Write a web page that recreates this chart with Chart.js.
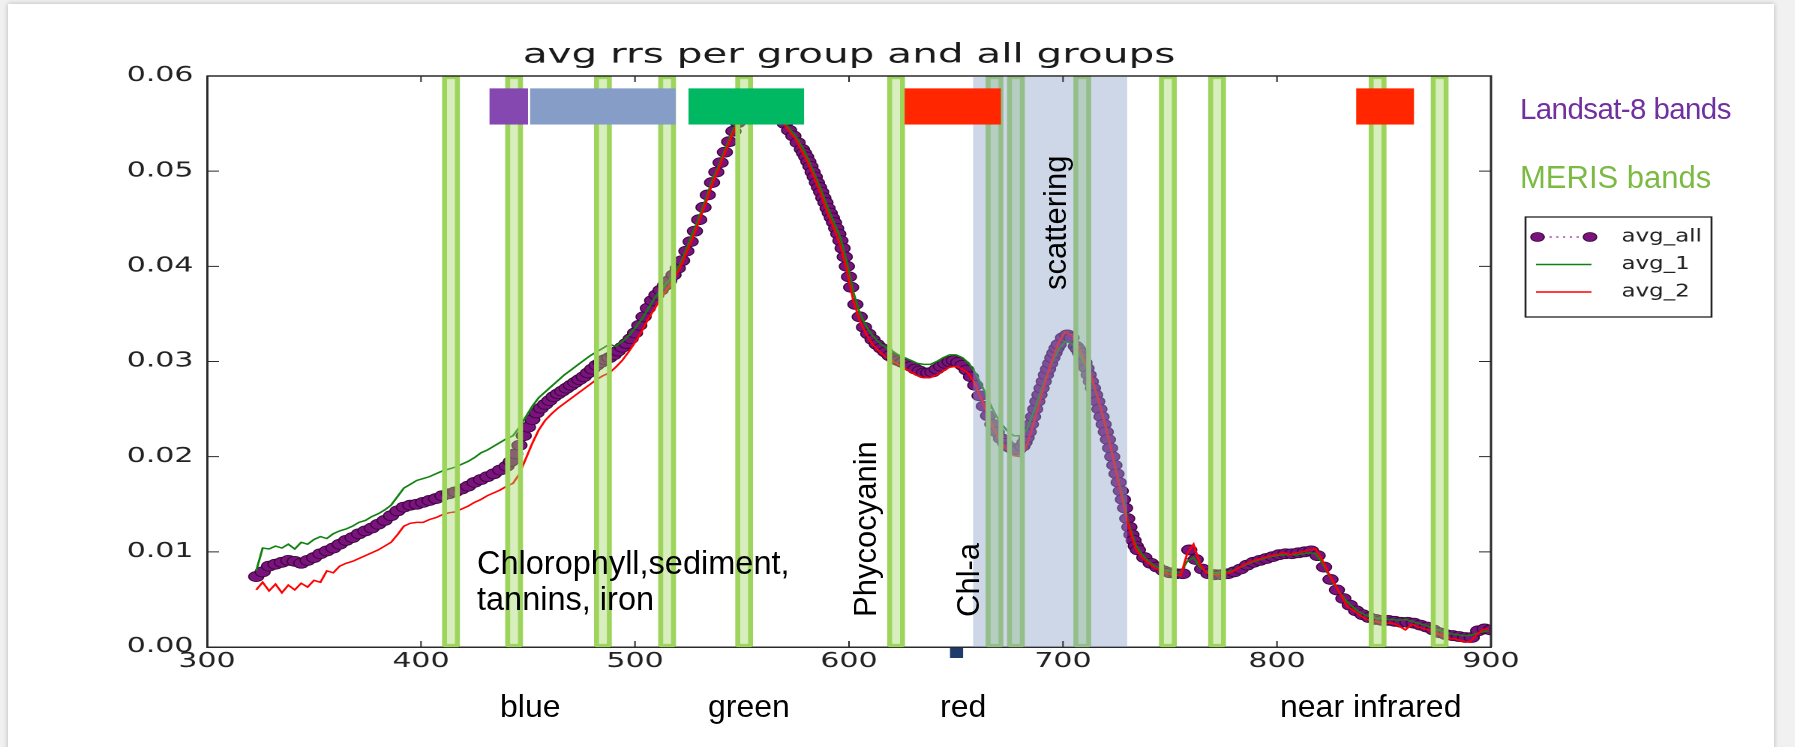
<!DOCTYPE html>
<html>
<head>
<meta charset="utf-8">
<script src="https://cdn.jsdelivr.net/npm/chart.js@4.4.1/dist/chart.umd.min.js"></script>
<style>
  html, body { margin: 0; padding: 0; }
  body { width: 1795px; height: 747px; background: #f1f1f1; position: relative; overflow: hidden; }
  #slide { position: absolute; left: 8px; top: 4px; width: 1766px; height: 760px; background: #fff; box-shadow: 0 0 5px rgba(0,0,0,0.25); }
  /* the matplotlib picture was stretched sideways on the slide */
  #wrap { position: absolute; left: 0; top: 0; width: 1197px; height: 747px; transform: scaleX(1.5); transform-origin: 0 0; }
  .note { position: absolute; font-family: "Liberation Sans", Arial, sans-serif; font-size: 32px; line-height: 36px; color: #000; white-space: nowrap; }
  .vert { transform-origin: 0 0; transform: rotate(-90deg); }
</style>
</head>
<body>
<div id="slide"></div>
<div id="wrap"><canvas id="chart" width="1197" height="747"></canvas></div>

<div class="note" style="left:477px; top:545px; font-size:32.5px;">Chlorophyll,sediment,<br>tannins, iron</div>
<div class="note" style="left:500px; top:688px;">blue</div>
<div class="note" style="left:708px; top:688px;">green</div>
<div class="note" style="left:940px; top:688px;">red</div>
<div class="note" style="left:1280px; top:688px;">near infrared</div>
<div class="note vert" style="left:848px; top:617px; font-size:31px;">Phycocyanin</div>
<div class="note vert" style="left:951px; top:617px; font-size:31px;">Chl-a</div>
<div class="note vert" style="left:1038px; top:290px; font-size:31px;">scattering</div>
<div class="note" style="left:1520px; top:91px; font-size:29.5px; letter-spacing:-0.6px; color:#7030a0;">Landsat-8 bands</div>
<div class="note" style="left:1520px; top:160px; font-size:31px; color:#7cba44;">MERIS bands</div>

<script>
// Werte (Wellenlaenge in nm, rrs)
const wavelengthAll = [
  323,326,329,332,335,338,341,344,347,350,353,356,359,362,365,368,371,374,377,380,
  383,386,389,392,395,398,401,404,407,410,413,416,419,422,425,428,431,434,437,440,
  442,444,446,448,450,452,454,456,458,460,462,464,466,468,470,472,474,476,478,480,
  482,484,486,488,490,492,494,496,498,500,502,504,506,508,510,512,514,516,518,520,
  522,524,526,528,530,532,534,536,538,540,542,544,546,548,550,552,554,556,558,560,
  562,564,566,568,570,572,574,576,
  578,579,580,581,582,583,584,585,586,587,588,589,590,591,592,593,594,595,596,597,598,599,600,601,
  603,605,607,609,611,613,615,617,619,621,623,625,627,629,631,633,635,637,639,641,
  643,645,647,649,651,653,655,657,659,661,663,665,667,669,671,673,675,677,679,681,
  682,683,684,685,686,687,688,689,690,691,692,693,694,695,696,697,698,
  700,702,704,706,
  707,708,709,710,711,712,713,714,715,716,717,718,719,720,721,722,723,724,725,726,727,728,729,730,731,732,733,734,735,
  738,741,744,747,750,753,756,759,762,765,768,771,774,777,780,783,786,789,792,795,
  798,801,804,807,810,813,816,819,822,825,828,831,834,837,840,843,846,849,852,855,
  858,861,864,867,870,873,876,879,882,885,888,891,894,897,900
];
const avgAll = [
  .0074,.0079,.0085,.0087,.0089,.0091,.0090,.0088,.0091,.0094,.0098,.0101,.0104,.0108,.0112,.0115,.0119,.0122,.0125,.0129,
  .0133,.0138,.0143,.0147,.0149,.0150,.0152,.0154,.0156,.0159,.0161,.0163,.0166,.0169,.0173,.0176,.0179,.0182,.0186,.0190,
  .0195,.0203,.0212,.0222,.0231,.0239,.0246,.0251,.0255,.0259,.0263,.0266,.0269,.0272,.0275,.0278,.0281,.0284,.0288,.0292,
  .0296,.0299,.0302,.0304,.0307,.0311,.0315,.0319,.0324,.0330,.0338,.0347,.0356,.0364,.0370,.0375,.0380,.0385,.0391,.0398,
  .0406,.0416,.0426,.0437,.0449,.0462,.0475,.0488,.0499,.0509,.0520,.0531,.0542,.0551,.0559,.0566,.0572,.0576,.0579,.0580,
  .0579,.0575,.0568,.0558,.0550,.0543,.0537,.0530,
  .0523,.0519,.0515,.0510,.0505,.0499,.0494,.0488,.0483,.0478,.0472,.0467,.0461,.0456,.0451,.0446,.0440,.0434,.0427,.0419,.0410,.0400,.0389,.0378,
  .0360,.0347,.0336,.0329,.0323,.0318,.0314,.0310,.0306,.0303,.0301,.0299,.0297,.0295,.0292,.0290,.0288,.0288,.0289,.0292,
  .0295,.0298,.0300,.0301,.0299,.0296,.0291,.0284,.0275,.0264,.0253,.0243,.0234,.0226,.0219,.0214,.0210,.0207,.0207,.0211,
  .0215,.0220,.0226,.0234,.0242,.0250,.0258,.0265,.0272,.0279,.0286,.0292,.0298,.0304,.0309,.0314,.0318,
  .0325,.0328,.0325,.0316,
  .0313,.0309,.0305,.0299,.0293,.0286,.0279,.0272,.0265,.0258,.0250,.0242,.0234,.0226,.0218,.0209,.0200,.0191,.0182,.0173,.0164,.0155,.0146,.0135,.0126,.0118,.0112,.0106,.0102,
  .0094,.0088,.0084,.0080,.0078,.0077,.0077,.0102,.0092,.0082,.0077,.0076,.0076,.0077,.0079,.0082,.0086,.0089,.0091,.0093,
  .0095,.0097,.0098,.0098,.0099,.0100,.0101,.0096,.0084,.0071,.0060,.0051,.0044,.0038,.0034,.0031,.0029,.0028,.0028,.0027,
  .0026,.0026,.0025,.0023,.0021,.0018,.0015,.0013,.0012,.0011,.0010,.0010,.0017,.0019,.0018
];

const wavelengthLines = [
  323,326,329,332,335,338,341,344,347,350, 353,356,359,362,365,368,371,374,377,380,
  383,386,389,392,395,398,401,404,407,410, 413,416,419,422,425,428,431,434,437,440,
  443,446,449,452,455,458,461,464,467,470, 473,476,479,482,485,488,491,494,497,500,
  503,506,509,512,515,518,521,524,527,530, 533,536,539,542,545,548,551,554,557,560,
  563,566,569,572,575,578,581,584,587,590, 593,596,599,602,605,608,611,614,617,620,
  623,626,629,632,635,638,641,644,647,650, 653,656,659,662,665,668,671,674,677,680,
  683,686,689,692,695,698,701,704,707,710, 713,716,719,722,725,728,731,734,737,740,
  743,746,749,752,755,758,761,764,767,770, 773,776,779,782,785,788,791,794,797,800,
  803,806,809,812,815,818,821,824,827,830, 833,836,839,842,845,848,851,854,857,860,
  863,866,869,872,875,878,881,884,887,890, 893,896,899
];
const avg1 = [
  .0080,.0104,.0103,.0106,.0104,.0108,.0103,.0110,.0108,.0113, .0116,.0114,.0119,.0122,.0124,.0127,.0131,.0133,.0137,.0140,
  .0144,.0149,.0158,.0167,.0171,.0175,.0177,.0179,.0182,.0185, .0187,.0189,.0192,.0195,.0199,.0204,.0207,.0211,.0215,.0219,
  .0222,.0231,.0242,.0253,.0262,.0268,.0274,.0280,.0286,.0291, .0296,.0301,.0306,.0310,.0314,.0318,.0316,.0321,.0327,.0335,
  .0344,.0355,.0366,.0375,.0383,.0391,.0402,.0418,.0435,.0452, .0470,.0490,.0505,.0522,.0539,.0554,.0565,.0573,.0578,.0580,
  .0578,.0568,.0554,.0545,.0537,.0526,.0512,.0496,.0480,.0462, .0446,.0430,.0404,.0373,.0351,.0337,.0327,.0320,.0315,.0311,
  .0307,.0304,.0301,.0298,.0297,.0297,.0300,.0304,.0307,.0307, .0304,.0298,.0288,.0275,.0260,.0246,.0235,.0227,.0222,.0222,
  .0228,.0245,.0264,.0283,.0300,.0313,.0321,.0319,.0310,.0298, .0283,.0263,.0240,.0212,.0184,.0156,.0127,.0107,.0097,.0090,
  .0085,.0082,.0080,.0079,.0078,.0090,.0094,.0084,.0079,.0078, .0078,.0079,.0080,.0083,.0086,.0089,.0091,.0093,.0095,.0096,
  .0097,.0097,.0097,.0098,.0099,.0098,.0089,.0077,.0065,.0055, .0047,.0041,.0036,.0033,.0031,.0030,.0029,.0029,.0028,.0029,
  .0027,.0025,.0023,.0021,.0018,.0016,.0014,.0013,.0012,.0012, .0014,.0016,.0017
];
const avg2 = [
  .0060,.0068,.0059,.0066,.0057,.0065,.0060,.0067,.0063,.0070, .0068,.0080,.0078,.0085,.0088,.0090,.0093,.0096,.0099,.0102,
  .0106,.0110,.0118,.0127,.0130,.0131,.0131,.0134,.0136,.0139, .0141,.0142,.0145,.0148,.0152,.0155,.0159,.0162,.0165,.0169,
  .0172,.0182,.0198,.0214,.0228,.0238,.0245,.0251,.0256,.0261, .0266,.0271,.0276,.0281,.0285,.0288,.0294,.0301,.0310,.0320,
  .0331,.0344,.0355,.0366,.0376,.0386,.0398,.0414,.0430,.0448, .0466,.0486,.0502,.0519,.0536,.0551,.0563,.0571,.0577,.0579,
  .0577,.0567,.0552,.0542,.0534,.0521,.0508,.0492,.0475,.0456, .0440,.0422,.0396,.0364,.0343,.0329,.0318,.0311,.0305,.0301,
  .0297,.0293,.0289,.0285,.0283,.0283,.0286,.0290,.0294,.0295, .0292,.0287,.0276,.0260,.0243,.0228,.0216,.0207,.0201,.0200,
  .0211,.0233,.0257,.0281,.0302,.0320,.0331,.0328,.0317,.0301, .0286,.0264,.0240,.0213,.0183,.0152,.0124,.0103,.0094,.0088,
  .0083,.0080,.0077,.0076,.0075,.0098,.0108,.0087,.0078,.0076, .0076,.0077,.0079,.0083,.0087,.0090,.0092,.0094,.0096,.0097,
  .0099,.0097,.0099,.0100,.0102,.0103,.0092,.0078,.0066,.0054, .0042,.0038,.0033,.0029,.0027,.0026,.0025,.0025,.0022,.0018,
  .0024,.0021,.0019,.0017,.0014,.0011,.0009,.0008,.0006,.0005, .0012,.0018,.0019
];

const seriesLabels = ['avg_all', 'avg_1', 'avg_2'];
const xTicks = [300, 400, 500, 600, 700, 800, 900];
const yTicks = [0, 0.01, 0.02, 0.03, 0.04, 0.05, 0.06];

// Sensor-Baender (nm)
const merisCenters = [414, 443.5, 485, 515, 551, 622, 668, 678, 709, 749, 772, 847, 876];
const landsatFrom = [432, 451, 525, 626, 837];
const landsatTo = [450, 519, 579, 671, 864];
const scatterFrom = 658, scatterTo = 730;

const pts = (xs, ys) => xs.map((x, i) => ({ x: x, y: ys[i] }));

const landsatColors = ['#8547b0', '#869dc7', '#00b862', '#ff2600', '#ff2600'];

const overlays = {
  id: 'overlays',
  afterDatasetsDraw(chart) {
    const { ctx, chartArea: a, scales: { x, y } } = chart;
    ctx.save();
    // MERIS
    ctx.lineJoin = 'round';
    ctx.lineWidth = 3.3;
    merisCenters.forEach(c => {
      const l = x.getPixelForValue(c - 3), r = x.getPixelForValue(c + 3);
      ctx.fillStyle = 'rgba(157,213,92,0.4)';
      ctx.fillRect(l, a.top + 1.5, r - l, a.bottom - a.top - 3);
      ctx.strokeStyle = '#9dd45c';
      ctx.strokeRect(l, a.top + 1.5, r - l, a.bottom - a.top - 3);
    });
    // scattering
    ctx.fillStyle = 'rgba(136,160,200,0.42)';
    const s0 = x.getPixelForValue(scatterFrom), s1 = x.getPixelForValue(scatterTo);
    ctx.fillRect(s0, a.top + 1, s1 - s0, a.bottom - a.top - 1);
    // Landsat
    const yt = y.getPixelForValue(0.0587), yb = y.getPixelForValue(0.0549);
    landsatFrom.forEach((f, i) => {
      const l = x.getPixelForValue(f), r = x.getPixelForValue(landsatTo[i]);
      ctx.fillStyle = landsatColors[i];
      ctx.fillRect(l, yt, r - l, yb - yt);
    });
    ctx.restore();
  },
  afterDraw(chart) {
    const { ctx, chartArea: a, scales: { x, y } } = chart;
    const ds = chart.data.datasets;
    ctx.save();
    // Rahmen oben/rechts + Ticks nach innen
    ctx.strokeStyle = '#2a2a2a';
    ctx.lineWidth = 1.5;
    ctx.beginPath();
    ctx.moveTo(a.left, a.top); ctx.lineTo(a.right, a.top); ctx.lineTo(a.right, a.bottom);
    ctx.stroke();
    ctx.lineWidth = 1;
    ctx.beginPath();
    xTicks.slice(1, -1).forEach(v => {
      const px = x.getPixelForValue(v);
      ctx.moveTo(px, a.bottom); ctx.lineTo(px, a.bottom - 6);
      ctx.moveTo(px, a.top); ctx.lineTo(px, a.top + 6);
    });
    yTicks.slice(1, -1).forEach(v => {
      const py = y.getPixelForValue(v);
      ctx.moveTo(a.left, py); ctx.lineTo(a.left + 8, py);
      ctx.moveTo(a.right, py); ctx.lineTo(a.right - 8, py);
    });
    ctx.stroke();

    // kleines Quadrat unter der Achse
    ctx.fillStyle = '#1f3b6a';
    const q0 = x.getPixelForValue(647.2), q1 = x.getPixelForValue(653.3);
    ctx.fillRect(q0, a.bottom + 1, q1 - q0, 10);

    // Legende
    const lx = 1017, ly = 217, lw = 124, lh = 100;
    ctx.fillStyle = '#fff';
    ctx.fillRect(lx, ly, lw, lh);
    ctx.strokeStyle = '#222';
    ctx.lineWidth = 1.3;
    ctx.strokeRect(lx, ly, lw, lh);
    ctx.font = '18px "DejaVu Sans"';
    ctx.textBaseline = 'middle';
    ds.forEach((d, i) => {
      const ey = ly + 20 + i * 27.5;
      ctx.strokeStyle = d.borderColor;
      ctx.lineWidth = d.borderWidth;
      ctx.setLineDash(d.borderDash || []);
      ctx.beginPath();
      ctx.moveTo(1024, ey); ctx.lineTo(1061, ey);
      ctx.stroke();
      ctx.setLineDash([]);
      if (d.pointRadius) {
        [1025, 1060].forEach(cx => {
          ctx.beginPath();
          ctx.arc(cx, ey, 4.5, 0, Math.PI * 2);
          ctx.fillStyle = d.pointBackgroundColor;
          ctx.fill();
          ctx.lineWidth = d.pointBorderWidth;
          ctx.strokeStyle = d.pointBorderColor;
          ctx.stroke();
        });
      }
      ctx.save();
      ctx.translate(1081, ey);
      ctx.scale(0.85, 1);
      ctx.fillStyle = '#222';
      ctx.fillText(d.label, 0, 0);
      ctx.restore();
    });
    ctx.restore();
  }
};

Chart.defaults.font.family = '"DejaVu Sans", sans-serif';

const ctx = document.getElementById('chart').getContext('2d');
new Chart(ctx, {
  type: 'line',
  data: {
    datasets: [
      {
        label: seriesLabels[0],
        data: pts(wavelengthAll, avgAll),
        borderColor: '#800080',
        borderWidth: 1,
        borderDash: [1.5, 3],
        pointRadius: 5,
        pointBackgroundColor: '#7b137f',
        pointBorderColor: '#3a063a',
        pointBorderWidth: 0.8,
        order: 3
      },
      {
        label: seriesLabels[1],
        data: pts(wavelengthLines, avg1),
        borderColor: '#118011',
        borderWidth: 1.5,
        pointRadius: 0,
        order: 2
      },
      {
        label: seriesLabels[2],
        data: pts(wavelengthLines, avg2),
        borderColor: '#ff0000',
        borderWidth: 1.5,
        pointRadius: 0,
        order: 1
      }
    ]
  },
  options: {
    responsive: false,
    animation: false,
    devicePixelRatio: 2,
    events: [],
    layout: { padding: { left: 0, right: 203, top: 0, bottom: 0 } },
    plugins: {
      legend: { display: false },
      tooltip: { enabled: false },
      title: {
        display: true,
        text: 'avg rrs per group and all groups',
        fullSize: false,
        color: '#1a1a1a',
        font: { size: 27, weight: 'normal' },
        padding: { top: 39.5, bottom: 4.1 }
      }
    },
    scales: {
      x: {
        type: 'linear',
        min: 300, max: 900,
        afterBuildTicks: s => { s.ticks = xTicks.map(v => ({ value: v })); },
        afterFit: s => { s.height = 100; },
        grid: { display: false, drawTicks: false },
        border: { display: true, color: '#2a2a2a', width: 1.5 },
        ticks: { color: '#222', font: { size: 20 }, padding: 3, maxRotation: 0, callback: v => String(v) }
      },
      y: {
        min: 0, max: 0.06,
        afterBuildTicks: s => { s.ticks = yTicks.map(v => ({ value: v })); },
        afterFit: s => { s.width = 138; },
        grid: { display: false, drawTicks: false },
        border: { display: true, color: '#2a2a2a', width: 1.5 },
        ticks: { color: '#222', font: { size: 20 }, padding: 9, callback: v => v.toFixed(2) }
      }
    }
  },
  plugins: [overlays]
});
</script>
</body>
</html>
